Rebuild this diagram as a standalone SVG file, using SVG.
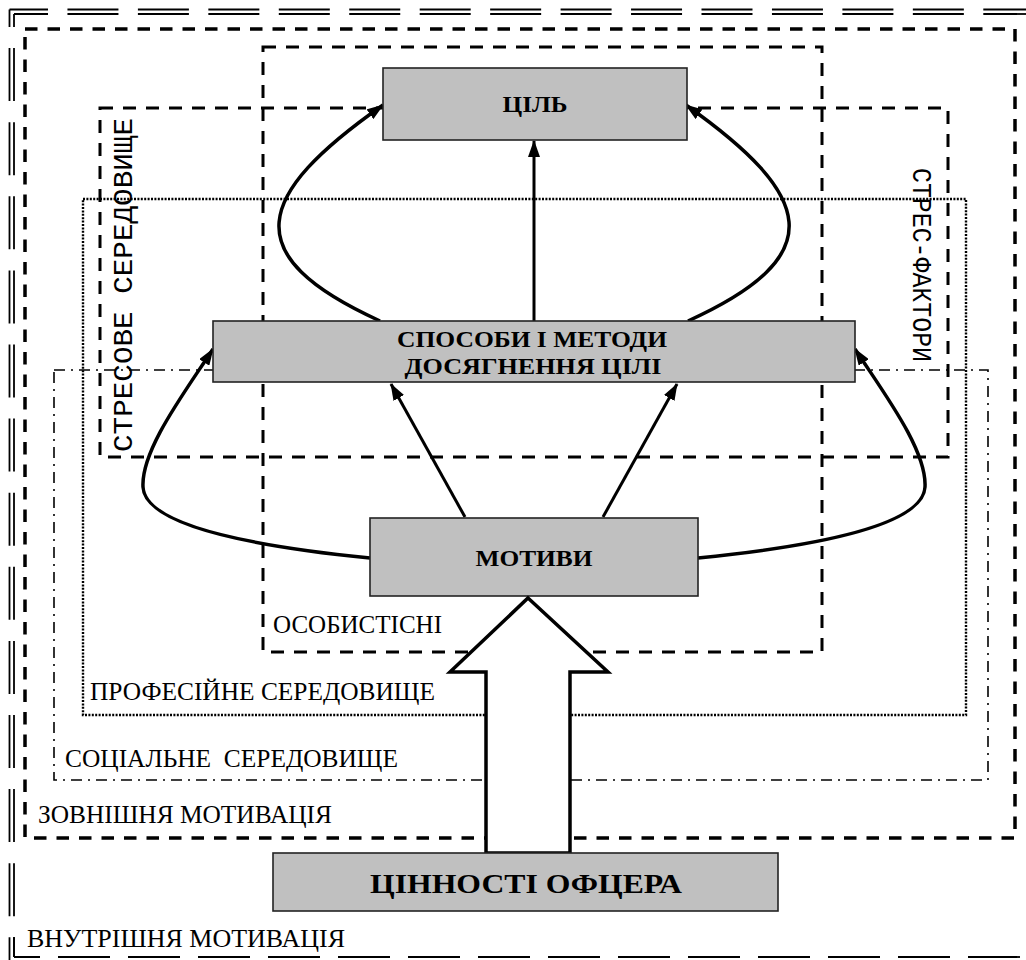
<svg xmlns="http://www.w3.org/2000/svg" width="1026" height="960" viewBox="0 0 1026 960">
<style>
.bg{fill:#fff}
.dbl{fill:none;stroke:#000;stroke-width:1.8}
.dash{fill:none;stroke:#000;stroke-width:3;stroke-dasharray:13 10}
.dash2{fill:none;stroke:#000;stroke-width:3.5;stroke-dasharray:12.5 10}
.dot{fill:none;stroke:#000;stroke-width:2.4;stroke-dasharray:2 1.4}
.dashdot{fill:none;stroke:#000;stroke-width:1.6;stroke-dasharray:11 6 2 6}
.node{fill:#c0c0c0;stroke:#222;stroke-width:1.6}
.nt{font-family:'Liberation Serif','DejaVu Serif',serif;font-weight:bold;font-size:24px;fill:#000;text-anchor:middle}
.lbl{font-family:'Liberation Serif','DejaVu Serif',serif;font-size:25px;fill:#000}
.vl{font-family:'Liberation Mono','DejaVu Sans Mono',monospace;font-size:27px;fill:#000}
.conn{fill:none;stroke:#000;stroke-width:3.5;marker-end:url(#ah)}
.conn2{fill:none;stroke:#000;stroke-width:3;marker-end:url(#ah)}
.big{fill:#fff;stroke:#000;stroke-width:3.5;stroke-linejoin:miter}
</style>
<defs>
<marker id="ah" markerUnits="userSpaceOnUse" markerWidth="17" markerHeight="12" viewBox="0 0 17 12" refX="16" refY="6" orient="auto">
<path d="M0,0 L17,6 L0,12 z" fill="#000"/>
</marker>
</defs>
<rect class="bg" x="0" y="0" width="1026" height="960"/>

<g id="vnutrishnia">
<path class="dbl" d="M9.5 9.5 L1030 9.5" stroke-dasharray="51 19.45" stroke-dashoffset="12.5"/>
<path class="dbl" d="M14 14 L1030 14" stroke-dasharray="51 19.45" stroke-dashoffset="17"/>
<path class="dbl" d="M9.5 9.5 L9.5 970" stroke-dasharray="53 21.1" stroke-dashoffset="35.5"/>
<path class="dbl" d="M14 14 L14 957" stroke-dasharray="53 21.1" stroke-dashoffset="40"/>
<path class="dbl" d="M14 957 L1030 957" stroke-dasharray="52 18" stroke-dashoffset="26"/>
<path class="dbl" d="M14 937 L14 957"/>
<text class="lbl" x="27" y="947" textLength="318" lengthAdjust="spacingAndGlyphs">ВНУТРІШНЯ МОТИВАЦІЯ</text>
</g>

<g id="zovnishnia">
<rect class="dash2" x="25" y="29" width="990" height="809"/>
<text class="lbl" x="38" y="823" textLength="294" lengthAdjust="spacingAndGlyphs">ЗОВНІШНЯ МОТИВАЦІЯ</text>
</g>

<g id="sotsialne">
<rect class="dashdot" x="54" y="370" width="934" height="410"/>
<text class="lbl" x="65" y="767" textLength="333" lengthAdjust="spacingAndGlyphs" xml:space="preserve">СОЦІАЛЬНЕ  СЕРЕДОВИЩЕ</text>
</g>

<g id="profesiine">
<rect class="dot" x="83" y="199" width="883" height="516"/>
<text class="lbl" x="90" y="700" textLength="345" lengthAdjust="spacingAndGlyphs">ПРОФЕСІЙНЕ СЕРЕДОВИЩЕ</text>
</g>

<g id="stresove">
<rect class="dash" x="100" y="108" width="848" height="349"/>
<text class="vl" transform="translate(132 452) rotate(-90)" textLength="334" lengthAdjust="spacingAndGlyphs">СТРЕСОВЕ СЕРЕДОВИЩЕ</text>
<text class="vl" transform="translate(913 168) rotate(90)" textLength="194" lengthAdjust="spacingAndGlyphs">СТРЕС-ФАКТОРИ</text>
</g>

<g id="osobystisni">
<rect class="dash" x="263" y="47" width="559" height="605"/>
<text class="lbl" x="273" y="633" textLength="169" lengthAdjust="spacingAndGlyphs">ОСОБИСТІСНІ</text>
</g>

<g id="connectors">
<path class="conn" d="M380 321 C235 255 255 195 383 105"/>
<path class="conn" d="M688 321 C833 255 813 195 686 105"/>
<path class="conn2" d="M534 321 L534 141"/>
<path class="conn2" d="M465 517 L391 384"/>
<path class="conn2" d="M603 517 L677 384"/>
<path class="conn" d="M370 558 C250 546 145 525 143 487 C141 450 185 392 213 349"/>
<path class="conn" d="M698 558 C818 546 923 525 925 487 C927 450 883 392 855 349"/>
</g>

<g id="tsil">
<rect class="node" x="383" y="68" width="304" height="72"/>
<text class="nt" x="535" y="112" textLength="65" lengthAdjust="spacingAndGlyphs">ЦІЛЬ</text>
</g>

<g id="sposoby">
<rect class="node" x="213" y="321" width="642" height="61"/>
<text class="nt" x="532" y="347" textLength="270" lengthAdjust="spacingAndGlyphs">СПОСОБИ І МЕТОДИ</text>
<text class="nt" x="533" y="374" textLength="257" lengthAdjust="spacingAndGlyphs">ДОСЯГНЕННЯ ЦІЛІ</text>
</g>

<g id="motyvy">
<rect class="node" x="370" y="518" width="328" height="78"/>
<text class="nt" x="534" y="566" textLength="117" lengthAdjust="spacingAndGlyphs">МОТИВИ</text>
</g>

<g id="big-arrow">
<polygon class="big" points="528,598 608,672 570,672 570,853 486,853 486,672 450,672"/>
</g>

<g id="tsinnosti">
<rect class="node" x="273" y="853" width="505" height="58"/>
<text class="nt" x="526" y="893" style="font-size:28px" textLength="312" lengthAdjust="spacingAndGlyphs">ЦІННОСТІ ОФЦЕРА</text>
</g>
</svg>
